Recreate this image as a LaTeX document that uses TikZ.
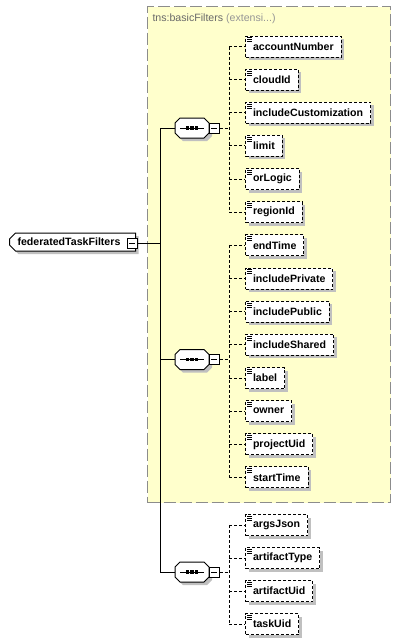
\documentclass[tikz,border=0pt]{standalone}
\usepackage{fontspec}
\setmainfont{Liberation Sans}
\usetikzlibrary{shapes.misc,shadows}
\definecolor{extfill}{RGB}{255,255,204}
\definecolor{extborder}{RGB}{140,140,140}
\definecolor{shadowgray}{RGB}{192,192,192}
\definecolor{titledark}{RGB}{105,105,105}
\definecolor{titlelight}{RGB}{150,150,150}
\begin{document}
\begin{tikzpicture}[x=1pt,y=-1pt,line width=1pt,
  shd/.style={general shadow={fill=shadowgray,shadow xshift=3pt,shadow yshift=-3pt}},
  conn/.style={line width=1pt,dash pattern=on 3pt off 2pt},
  elem/.style={draw,line width=1pt,dash pattern=on 3pt off 2pt,fill=white,shd,anchor=west,
    minimum height=21pt,inner xsep=7.5pt,inner ysep=0pt,
    font=\fontsize{10.6}{12}\selectfont\bfseries,
    path picture={
      \draw[solid,line width=0.8pt] ([xshift=1.5pt,yshift=-1.8pt]path picture bounding box.north west) -- ++(5,0);
      \draw[solid,line width=0.8pt] ([xshift=1.5pt,yshift=-3.8pt]path picture bounding box.north west) -- ++(5,0);
      \draw[solid,line width=0.8pt] ([xshift=1.5pt,yshift=-5.8pt]path picture bounding box.north west) -- ++(5,0);
    }},
  seqbox/.style={minimum width=34pt,minimum height=20pt,inner sep=0pt},
  minusbox/.style={draw,fill=white,minimum size=10pt,inner sep=0pt,
    path picture={\draw[line width=1pt] ([xshift=2pt]path picture bounding box.west) -- ([xshift=-2pt]path picture bounding box.east);}},
  rootbox/.style={chamfered rectangle,chamfered rectangle corners={north west,south west},
    chamfered rectangle xsep=3pt,chamfered rectangle ysep=3pt,draw,fill=white,shd,
    minimum width=123pt,minimum height=18pt,inner xsep=5pt,inner ysep=0pt,
    font=\fontsize{10.6}{12}\selectfont\bfseries}
]
\useasboundingbox (0,0) rectangle (401,643);
% extension box
\node[draw=extborder,fill=extfill,dash pattern=on 12pt off 4pt,anchor=north west,
  minimum width=243pt,minimum height=496pt,inner sep=0pt] (ext) at (147,6) {};
\node[anchor=base west,inner sep=0pt,font=\fontsize{10.6}{12}\selectfont] (title) at (152,21)
  {\textcolor{titledark}{tns:basicFilters} \textcolor{titlelight}{(extensi...)}};
% root
\node[rootbox,anchor=west] (root) at (9,242) {\makebox[110pt][l]{federatedTaskFilters}};
\node[minusbox] (rm) at (132,243) {};
% sequences
\node[seqbox] (s1) at (192,128) {};
\node[seqbox] (s2) at (192,359.5) {};
\node[seqbox] (s3) at (192,572) {};
\foreach \s in {s1,s2,s3}{
  \begin{scope}[shift={(\s.center)}]
    \fill[shadowgray] (-12+3,-10+3) -- (12+3,-10+3) -- (17+3,-5+3) -- (17+3,5+3) -- (12+3,10+3)
      -- (-12+3,10+3) -- (-17+3,5+3) -- (-17+3,-5+3) -- cycle;
    \draw[fill=white] (-12,-10) -- (12,-10) -- (17,-5) -- (17,5) -- (12,10)
      -- (-12,10) -- (-17,5) -- (-17,-5) -- cycle;
    \draw (-12,0) -- (12,0);
    \foreach \dx in {-4.5,0,4.5}
      \fill (\dx-1.6,-1.6) rectangle (\dx+1.6,1.6);
  \end{scope}
}
\node[minusbox] (m1) at (214,128) {};
\node[minusbox] (m2) at (214,359.5) {};
\node[minusbox] (m3) at (214,572) {};
% elements
\foreach \n [count=\i from 0] in {accountNumber,cloudId,includeCustomization,limit,orLogic,regionId,
  endTime,includePrivate,includePublic,includeShared,label,owner,projectUid,startTime}
  \node[elem] (e\i) at (245,{46.5+33.15*\i}) {\n};
\foreach \n [count=\i from 0] in {argsJson,artifactType,artifactUid,taskUid}
  \node[elem] (f\i) at (245,{525+33*\i}) {\n};
% trunk
\coordinate (trunk) at (160,0);
\coordinate (bus) at (229,0);
\draw (rm.east) -- (rm.east -| trunk);
\draw (s1.west) -- (s1.west -| trunk) -- (s3.west -| trunk) -- (s3.west);
\draw (s2.west) -- (s2.west -| trunk);
% group buses
\draw[conn] (m1.east) -- (m1.east -| bus);
\draw[conn] (e0.west -| bus) -- (e5.west -| bus);
\foreach \i in {0,...,5} \draw[conn] (e\i.west -| bus) -- (e\i.west);
\draw[conn] (m2.east) -- (m2.east -| bus);
\draw[conn] (e6.west -| bus) -- (e13.west -| bus);
\foreach \i in {6,...,13} \draw[conn] (e\i.west -| bus) -- (e\i.west);
\draw[conn] (m3.east) -- (m3.east -| bus);
\draw[conn] (f0.west -| bus) -- (f3.west -| bus);
\foreach \i in {0,...,3} \draw[conn] (f\i.west -| bus) -- (f\i.west);
\end{tikzpicture}
\end{document}
